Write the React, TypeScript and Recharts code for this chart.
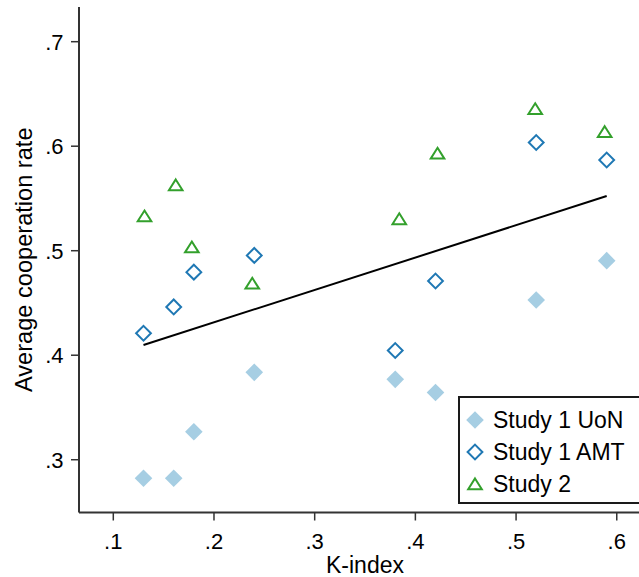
import React from 'react';
import { ScatterChart, Scatter, XAxis, YAxis, Legend, Label } from 'recharts';

// K-index values for each study
const study1K = [0.13, 0.16, 0.18, 0.24, 0.38, 0.42, 0.52, 0.59];
const study2K = [0.131, 0.162, 0.178, 0.238, 0.384, 0.422, 0.519, 0.588];

// average cooperation rates
const uonRates = [0.2823, 0.2823, 0.3268, 0.3836, 0.3769, 0.3643, 0.4528, 0.4905];
const amtRates = [0.421, 0.4462, 0.4795, 0.4955, 0.4045, 0.471, 0.6035, 0.5868];
const study2Rates = [0.5332, 0.5629, 0.5035, 0.4688, 0.5305, 0.5932, 0.6358, 0.6139];

// fitted line end points
const fitK = [0.13, 0.59];
const fitRates = [0.4098, 0.5523];

const xTicks = [0.1, 0.2, 0.3, 0.4, 0.5, 0.6];
const yTicks = [0.3, 0.4, 0.5, 0.6, 0.7];

const toPoints = (xs: number[], ys: number[]) => xs.map((x, i) => ({ k: x, rate: ys[i] }));

const uonData = toPoints(study1K, uonRates);
const amtData = toPoints(study1K, amtRates);
const study2Data = toPoints(study2K, study2Rates);
const fitData = toPoints(fitK, fitRates);

const COLORS = {
  uon: '#a6cee3',
  amt: '#1f78b4',
  study2: '#33a02c',
};

const FONT = '"Liberation Sans", Arial, Helvetica, sans-serif';
const AXIS = '#333333';
const TICK_FS = 22;
const FS = 23;

const fmt = (v: number) => v.toFixed(1).replace(/^0/, '');

const FilledDiamond = ({ cx, cy, fill }: any) => (
  <path d={`M${cx},${cy - 8.8} L${cx + 8.8},${cy} L${cx},${cy + 8.8} L${cx - 8.8},${cy} Z`} fill={fill} />
);

const HollowDiamond = ({ cx, cy, stroke }: any) => (
  <path
    d={`M${cx},${cy - 7.4} L${cx + 7.4},${cy} L${cx},${cy + 7.4} L${cx - 7.4},${cy} Z`}
    fill="none"
    stroke={stroke}
    strokeWidth={2}
  />
);

const HollowTriangle = ({ cx, cy, stroke }: any) => (
  <path
    d={`M${cx},${cy - 5.5} L${cx + 6.8},${cy + 5.3} L${cx - 6.8},${cy + 5.3} Z`}
    fill="none"
    stroke={stroke}
    strokeWidth={2}
  />
);

const legendRows = [
  { name: 'Study 1 UoN', kind: 'filled', color: COLORS.uon },
  { name: 'Study 1 AMT', kind: 'diamond', color: COLORS.amt },
  { name: 'Study 2', kind: 'triangle', color: COLORS.study2 },
];

const LegendBox = () => (
  <div
    style={{
      boxSizing: 'border-box',
      width: 200,
      height: 108,
      border: '2px solid #1a1a1a',
      background: '#fff',
      paddingTop: 6,
      fontFamily: FONT,
      fontSize: FS,
      color: '#000',
    }}
  >
    {legendRows.map((r) => (
      <div key={r.name} style={{ display: 'flex', alignItems: 'center', height: 32 }}>
        <svg width={30} height={22} style={{ marginLeft: 2, flexShrink: 0 }}>
          {r.kind === 'filled' && <FilledDiamond cx={13} cy={11} fill={r.color} />}
          {r.kind === 'diamond' && <HollowDiamond cx={13} cy={11} stroke={r.color} />}
          {r.kind === 'triangle' && <HollowTriangle cx={13} cy={11} stroke={r.color} />}
        </svg>
        <span style={{ marginLeft: 1, whiteSpace: 'nowrap' }}>{r.name}</span>
      </div>
    ))}
  </div>
);

export default function App() {
  return (
    <div style={{ position: 'absolute', left: 0, top: 0, width: 639, height: 577, overflow: 'hidden', background: '#fff' }}>
      <ScatterChart width={660} height={577} margin={{ top: 7, right: 9, bottom: 0, left: 0 }}>
        <XAxis
          type="number"
          dataKey="k"
          domain={[0.06594, 0.634]}
          ticks={xTicks}
          tickFormatter={fmt}
          allowDataOverflow
          height={64.5}
          tickSize={8}
          tickMargin={12.5}
          axisLine={{ stroke: AXIS, strokeWidth: 2 }}
          tickLine={{ stroke: AXIS, strokeWidth: 1.5 }}
          tick={{ fontSize: TICK_FS, fill: '#000', fontFamily: FONT }}
        >
          <Label value="K-index" position="center" dy={20} style={{ fontSize: FS, fill: '#000', fontFamily: FONT }} />
        </XAxis>
        <YAxis
          type="number"
          dataKey="rate"
          domain={[0.2495, 0.7332]}
          ticks={yTicks}
          tickFormatter={fmt}
          allowDataOverflow
          width={79}
          tickSize={8}
          tickMargin={7.5}
          axisLine={{ stroke: AXIS, strokeWidth: 2 }}
          tickLine={{ stroke: AXIS, strokeWidth: 1.5 }}
          tick={{ fontSize: TICK_FS, fill: '#000', fontFamily: FONT }}
        >
          <Label
            value="Average cooperation rate"
            angle={-90}
            position="center"
            dx={-16}
            style={{ fontSize: 23.6, fill: '#000', fontFamily: FONT, textAnchor: 'middle' }}
          />
        </YAxis>
        <Scatter
          name="fit"
          data={fitData}
          line={{ stroke: '#000', strokeWidth: 2 }}
          shape={() => null}
          legendType="none"
          isAnimationActive={false}
        />
        <Scatter name="Study 1 UoN" data={uonData} fill={COLORS.uon} shape={FilledDiamond} isAnimationActive={false} />
        <Scatter name="Study 1 AMT" data={amtData} stroke={COLORS.amt} fill="none" shape={HollowDiamond} isAnimationActive={false} />
        <Scatter name="Study 2" data={study2Data} stroke={COLORS.study2} fill="none" shape={HollowTriangle} isAnimationActive={false} />
        <Legend
          layout="vertical"
          align="center"
          verticalAlign="middle"
          content={() => <LegendBox />}
          wrapperStyle={{ left: 458, top: 396, width: 200, height: 108 }}
        />
      </ScatterChart>
    </div>
  );
}
